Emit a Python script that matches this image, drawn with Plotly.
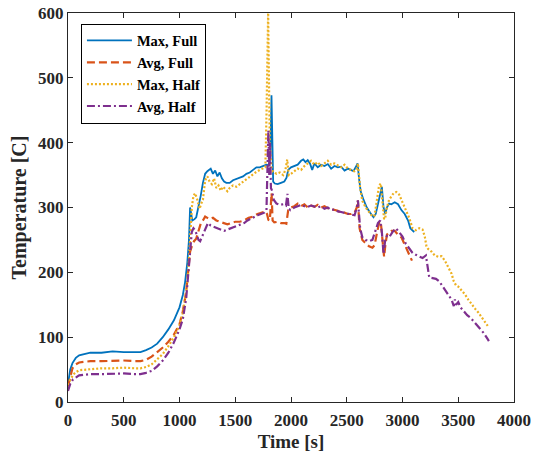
import plotly.graph_objects as go

# Time [s] and temperature [C] for each case
t_max_full = [
    0, 20, 40, 70, 100, 150, 200, 300, 400, 500,
    600, 650, 700, 750, 800, 850, 900, 950, 1000, 1030,
    1050, 1070, 1085, 1095, 1115, 1135, 1150, 1170, 1190, 1210,
    1230, 1250, 1280, 1300, 1320, 1340, 1360, 1380, 1400, 1420,
    1450, 1480, 1510, 1540, 1570, 1600, 1630, 1660, 1690, 1720,
    1750, 1780, 1800, 1815, 1825, 1832, 1840, 1855, 1880, 1910,
    1940, 1960, 1975, 2000, 2030, 2060, 2090, 2110, 2130, 2150,
    2170, 2190, 2210, 2240, 2270, 2300, 2330, 2360, 2390, 2420,
    2450, 2480, 2510, 2540, 2560, 2580, 2597, 2610, 2625, 2650,
    2680, 2710, 2740, 2760, 2780, 2800, 2815, 2830, 2845, 2860,
    2880, 2900, 2930, 2960, 2990, 3020, 3050, 3070, 3090, 3105,
]
max_full = [
    28, 50, 60, 68, 72, 74, 76, 76, 78, 77,
    77, 77, 80, 84, 90, 100, 112, 126, 146, 165,
    185, 215, 250, 300, 280, 282, 285, 300, 318, 338,
    352, 356, 360, 352, 357, 348, 354, 345, 340, 338,
    338, 342, 344, 346, 348, 352, 354, 358, 362, 362,
    364, 366, 365, 380, 473, 400, 340, 337, 336, 338,
    340, 346, 358, 362, 364, 366, 372, 374, 370, 373,
    368, 358, 368, 362, 366, 364, 367, 360, 364, 362,
    363, 357, 360, 358, 356, 362, 368, 345, 325, 312,
    300, 292, 285, 290, 305, 322, 332, 300, 290, 300,
    306, 305, 308, 305, 296, 290, 280, 268, 265, 262,
]

t_avg_full = [
    0, 20, 40, 70, 100, 150, 200, 300, 400, 500,
    600, 650, 700, 750, 800, 850, 900, 950, 1000, 1030,
    1060, 1080, 1095, 1110, 1130, 1150, 1170, 1190, 1210, 1230,
    1250, 1270, 1300, 1330, 1360, 1400, 1430, 1460, 1500, 1540,
    1580, 1620, 1660, 1700, 1740, 1770, 1785, 1797, 1810, 1820,
    1826, 1835, 1850, 1880, 1910, 1940, 1958, 1975, 2000, 2030,
    2060, 2090, 2120, 2150, 2180, 2210, 2240, 2270, 2300, 2330,
    2360, 2390, 2420, 2450, 2480, 2510, 2540, 2570, 2590, 2600,
    2615, 2640, 2670, 2700, 2730, 2750, 2770, 2790, 2805, 2820,
    2835, 2845, 2860, 2880, 2900, 2930, 2960, 2990, 3020, 3050,
    3070, 3085,
]
avg_full = [
    24, 40, 52, 58, 61, 62, 63, 63, 64, 64,
    63, 63, 65, 70, 77, 84, 93, 104, 120, 140,
    170, 200, 232, 240, 248, 252, 262, 275, 280, 286,
    284, 282, 284, 280, 278, 276, 274, 276, 278, 278,
    280, 284, 286, 290, 292, 294, 290, 281, 280, 300,
    322, 280, 277, 278, 276, 276, 275, 296, 300, 302,
    306, 302, 305, 300, 303, 301, 304, 300, 302, 299,
    298, 296, 295, 292, 292, 290, 290, 292, 300, 311,
    268, 250, 245, 240, 238, 242, 260, 276, 278, 250,
    224, 240, 258, 262, 264, 264, 258, 254, 242, 230,
    222, 218,
]

t_max_half = [
    0, 20, 45, 70, 100, 150, 200, 300, 400, 500,
    600, 650, 700, 750, 800, 850, 900, 950, 1000, 1030,
    1060, 1080, 1095, 1110, 1125, 1140, 1160, 1180, 1195, 1210,
    1230, 1250, 1270, 1290, 1310, 1330, 1350, 1370, 1390, 1410,
    1430, 1450, 1480, 1510, 1540, 1570, 1600, 1630, 1660, 1690,
    1720, 1750, 1770, 1780, 1788, 1795, 1802, 1810, 1825, 1840,
    1870, 1900, 1930, 1950, 1966, 1980, 2000, 2030, 2060, 2090,
    2120, 2150, 2180, 2210, 2240, 2270, 2300, 2330, 2360, 2390,
    2420, 2450, 2480, 2510, 2540, 2570, 2590, 2600, 2620, 2640,
    2670, 2700, 2730, 2750, 2770, 2790, 2805, 2820, 2835, 2845,
    2860, 2880, 2900, 2920, 2945, 2970, 3000, 3030, 3060, 3090,
    3120, 3150, 3180, 3200, 3215, 3230, 3260, 3290, 3320, 3350,
    3380, 3410, 3440, 3460, 3480, 3500, 3530, 3560, 3590, 3620,
    3650, 3680, 3710, 3740, 3770,
]
max_half = [
    20, 34, 42, 46, 49, 50, 51, 52, 52, 53,
    52, 52, 54, 58, 66, 74, 86, 100, 118, 138,
    170, 205, 250, 300, 318, 322, 312, 298, 306, 312,
    342, 348, 340, 336, 345, 330, 334, 326, 332, 328,
    325, 330, 334, 332, 336, 340, 344, 348, 352, 355,
    358, 360, 362, 440, 560, 600, 500, 400, 360, 355,
    352, 354, 350, 358, 374, 350, 352, 356, 360, 358,
    364, 368, 372, 366, 370, 364, 368, 372, 366, 368,
    365, 362, 366, 360, 358, 356, 360, 368, 330, 310,
    300, 292, 286, 288, 310, 334, 337, 310, 282, 284,
    300, 312, 318, 322, 324, 320, 308, 296, 284, 268,
    265, 268, 266, 255, 240, 236, 232, 226, 224, 225,
    218, 208, 198, 186, 180, 178, 172, 166, 158, 150,
    144, 138, 130, 124, 116,
]

t_avg_half = [
    0, 20, 45, 70, 100, 150, 200, 300, 400, 500,
    600, 650, 700, 750, 800, 850, 900, 950, 1000, 1030,
    1060, 1080, 1095, 1110, 1125, 1140, 1155, 1170, 1185, 1200,
    1215, 1235, 1255, 1280, 1310, 1340, 1370, 1400, 1430, 1460,
    1490, 1520, 1550, 1580, 1610, 1640, 1670, 1700, 1730, 1760,
    1780, 1790, 1797, 1805, 1812, 1820, 1830, 1845, 1870, 1900,
    1930, 1955, 1968, 1980, 1995, 2030, 2060, 2090, 2120, 2150,
    2180, 2210, 2240, 2270, 2300, 2330, 2360, 2390, 2420, 2450,
    2480, 2510, 2540, 2570, 2590, 2600, 2620, 2640, 2670, 2700,
    2730, 2760, 2780, 2800, 2815, 2830, 2845, 2860, 2880, 2910,
    2940, 2970, 3000, 3030, 3060, 3090, 3120, 3150, 3180, 3210,
    3225, 3240, 3270, 3300, 3330, 3360, 3390, 3420, 3440, 3460,
    3470, 3480, 3500, 3520, 3550, 3580, 3610, 3640, 3670, 3700,
    3730, 3760, 3775,
]
avg_half = [
    17, 28, 35, 38, 41, 42, 43, 43, 44, 44,
    43, 43, 45, 48, 55, 64, 76, 92, 112, 128,
    160, 200, 240, 262, 268, 265, 258, 250, 248, 254,
    262, 270, 276, 272, 270, 268, 266, 264, 266, 268,
    270, 272, 274, 276, 280, 283, 285, 288, 290, 292,
    296, 380, 419, 350, 400, 330, 326, 312, 306, 304,
    305, 303, 321, 298, 296, 300, 302, 304, 302, 301,
    303, 302, 300, 302, 298, 300, 296, 297, 294, 293,
    292, 290, 289, 288, 300, 311, 268, 254, 250, 248,
    250, 265, 276, 280, 262, 228, 250, 256, 254, 262,
    268, 262, 255, 244, 236, 230, 227, 224, 222, 226,
    210, 192, 191, 190, 186, 178, 172, 164, 158, 148,
    158, 150, 154, 146, 140, 134, 130, 124, 118, 112,
    106, 98, 94,
]

series_names = ["Max, Full", "Avg, Full", "Max, Half", "Avg, Half"]
x_ticks = [0, 500, 1000, 1500, 2000, 2500, 3000, 3500, 4000]
y_ticks = [0, 100, 200, 300, 400, 500, 600]

FONT = "Liberation Serif"
INK = "#262626"
styles = [
    dict(color="#0072BD", width=1.8, dash="solid"),
    dict(color="#D95319", width=2.2, dash="8px,4px"),
    dict(color="#EDB120", width=2.2, dash="2px,2px"),
    dict(color="#7E2F8E", width=2.2, dash="8px,3px,2px,3px"),
]
data = [(t_max_full, max_full), (t_avg_full, avg_full),
        (t_max_half, max_half), (t_avg_half, avg_half)]

fig = go.Figure()
for (tx, ty), name, st in zip(data, series_names, styles):
    fig.add_trace(go.Scatter(x=tx, y=ty, mode="lines", name=name, line=st))

axis_common = dict(
    showline=True, linecolor=INK, linewidth=1, mirror="ticks",
    ticks="inside", ticklen=5, tickcolor=INK, showgrid=False,
    zeroline=False, automargin=False,
    tickfont=dict(family=FONT, size=17, color=INK, weight="bold"),
)
fig.update_xaxes(
    range=[0, 4000], tickvals=x_ticks, ticklabelstandoff=3,
    title=dict(text="Time [s]", font=dict(family=FONT, size=19, color=INK, weight="bold"), standoff=5),
    **axis_common,
)
fig.update_yaxes(
    range=[0, 600], tickvals=y_ticks,
    title=dict(text="Temperature [C]", font=dict(family=FONT, size=20, color=INK, weight="bold"), standoff=6),
    **axis_common,
)
fig.update_layout(
    width=536, height=454,
    margin=dict(l=68, r=22, t=13, b=52),
    paper_bgcolor="white", plot_bgcolor="white",
    legend=dict(
        x=0.029, y=0.973, xanchor="left", yanchor="top",
        bgcolor="white", bordercolor="#000000", borderwidth=1,
        font=dict(family=FONT, size=14.5, color="#000000", weight="bold"),
        itemwidth=45, tracegroupgap=0,
    ),
    showlegend=True,
)

fig.write_html("out.html")
